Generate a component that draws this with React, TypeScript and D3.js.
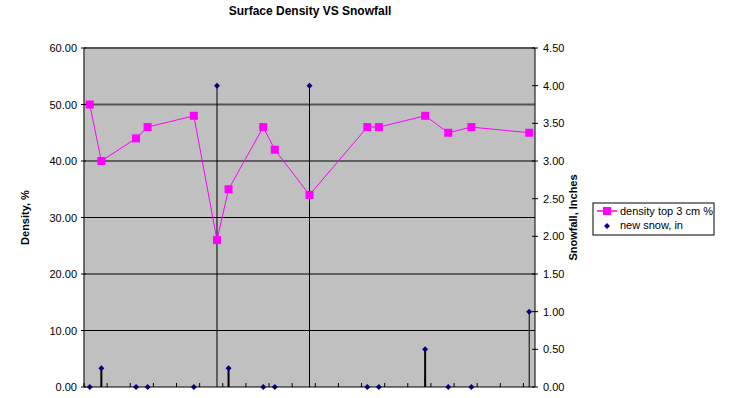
import React from 'react';
import * as d3 from 'd3';

// day offsets of each observation (x axis is a date axis, no labels shown)
const days = [0, 1, 4, 5, 9, 11, 12, 15, 16, 19, 24, 25, 29, 31, 33, 38];
const density = [50, 40, 44, 46, 48, 26, 35, 46, 42, 34, 46, 46, 48, 45, 46, 45];
const snow = [0, 0.25, 0, 0, 0, 4, 0.25, 0, 0, 4, 0, 0, 0.5, 0, 0, 1];
const leftTicks = [0, 10, 20, 30, 40, 50, 60];
const rightTicks = [0, 0.5, 1, 1.5, 2, 2.5, 3, 3.5, 4, 4.5];

const W = 731;
const H = 398;
const m = { l: 84, r: 535, t: 48, b: 387 };
const font = '"Liberation Sans", Arial, sans-serif';

const App = () => {
	const x = d3.scaleLinear().domain([-0.5, 38.5]).range([m.l, m.r]);
	const yL = d3.scaleLinear().domain([0, 60]).range([m.b, m.t]);
	const yR = d3.scaleLinear().domain([0, 4.5]).range([m.b, m.t]);
	const xTicks = d3.range(-0.5, 38.5, 2);

	const line = d3
		.line<number>()
		.x((d, i) => x(days[i]))
		.y((d) => yL(d));

	const diamond = (cx: number, cy: number, r: number) =>
		`M${cx},${cy - r}L${cx + r},${cy}L${cx},${cy + r}L${cx - r},${cy}Z`;

	return (
		<svg width={W} height={H} style={{ position: 'absolute', left: 0, top: 0 }} fontFamily={font}>
			<rect x={0} y={0} width={W} height={H} fill="#fff" />
			<text x={310} y={15} textAnchor="middle" fontSize={12} fontWeight="bold">
				Surface Density VS Snowfall
			</text>

			{/* plot area */}
			<rect x={m.l} y={m.t} width={m.r - m.l} height={m.b - m.t} fill="#c0c0c0" />
			{leftTicks.slice(1).map((t) => (
				<line
					key={t}
					x1={m.l}
					x2={m.r}
					y1={yL(t)}
					y2={yL(t)}
					stroke={t === 50 || t === 60 ? '#555' : '#000'}
					strokeWidth={t === 50 || t === 60 ? 2 : 1}
				/>
			))}

			{/* left axis */}
			<line x1={m.l} x2={m.l} y1={m.t} y2={m.b} stroke="#444" strokeWidth={1.5} />
			{leftTicks.map((t) => (
				<g key={t}>
					<line x1={m.l - 3} x2={m.l + 2} y1={yL(t)} y2={yL(t)} stroke="#000" />
					<text x={77} y={yL(t) + 4} textAnchor="end" fontSize={11}>
						{t.toFixed(2)}
					</text>
				</g>
			))}
			<text
				transform={`translate(29, ${(m.t + m.b) / 2}) rotate(-90)`}
				textAnchor="middle"
				fontSize={11}
				fontWeight="bold"
			>
				Density, %
			</text>

			{/* right axis */}
			<line x1={m.r} x2={m.r} y1={m.t} y2={m.b} stroke="#000" />
			{rightTicks.map((t) => (
				<g key={t}>
					<line x1={m.r - 3} x2={m.r + 3} y1={yR(t)} y2={yR(t)} stroke="#000" />
					<text x={543} y={yR(t) + 4} fontSize={11}>
						{t.toFixed(2)}
					</text>
				</g>
			))}
			<text
				transform={`translate(577, ${(m.t + m.b) / 2}) rotate(-90)`}
				textAnchor="middle"
				fontSize={11}
				fontWeight="bold"
			>
				Snowfall, Inches
			</text>

			{/* bottom axis */}
			<line x1={m.l} x2={m.r} y1={m.b} y2={m.b} stroke="#000" />
			{xTicks.map((t) => (
				<line key={t} x1={x(t)} x2={x(t)} y1={m.b} y2={m.b - 4} stroke="#000" />
			))}

			{/* snowfall drop lines and markers */}
			{snow.map((s, i) => (
				<g key={i}>
					{s > 0 && (
						<line x1={x(days[i])} x2={x(days[i])} y1={yR(s)} y2={m.b} stroke="#000" strokeWidth={s < 1 ? 2 : 1} />
					)}
					<path d={diamond(x(days[i]), yR(s), 3)} fill="#000080" />
				</g>
			))}

			{/* density line */}
			<path d={line(density) || ''} fill="none" stroke="#ff00ff" strokeWidth={1} />
			{density.map((d, i) => (
				<rect key={i} x={x(days[i]) - 4} y={yL(d) - 4} width={8} height={8} fill="#ff00ff" />
			))}

			{/* legend */}
			<rect x={593} y={203} width={121} height={32} fill="#fff" stroke="#000" />
			<line x1={597} x2={617} y1={211} y2={211} stroke="#ff00ff" strokeWidth={1.5} />
			<rect x={603} y={207} width={8} height={8} fill="#ff00ff" />
			<text x={620} y={215} fontSize={11}>
				density top 3 cm %
			</text>
			<path d={diamond(607, 226, 3)} fill="#000080" />
			<text x={620} y={229} fontSize={11}>
				new snow, in
			</text>
		</svg>
	);
};

export default App;
